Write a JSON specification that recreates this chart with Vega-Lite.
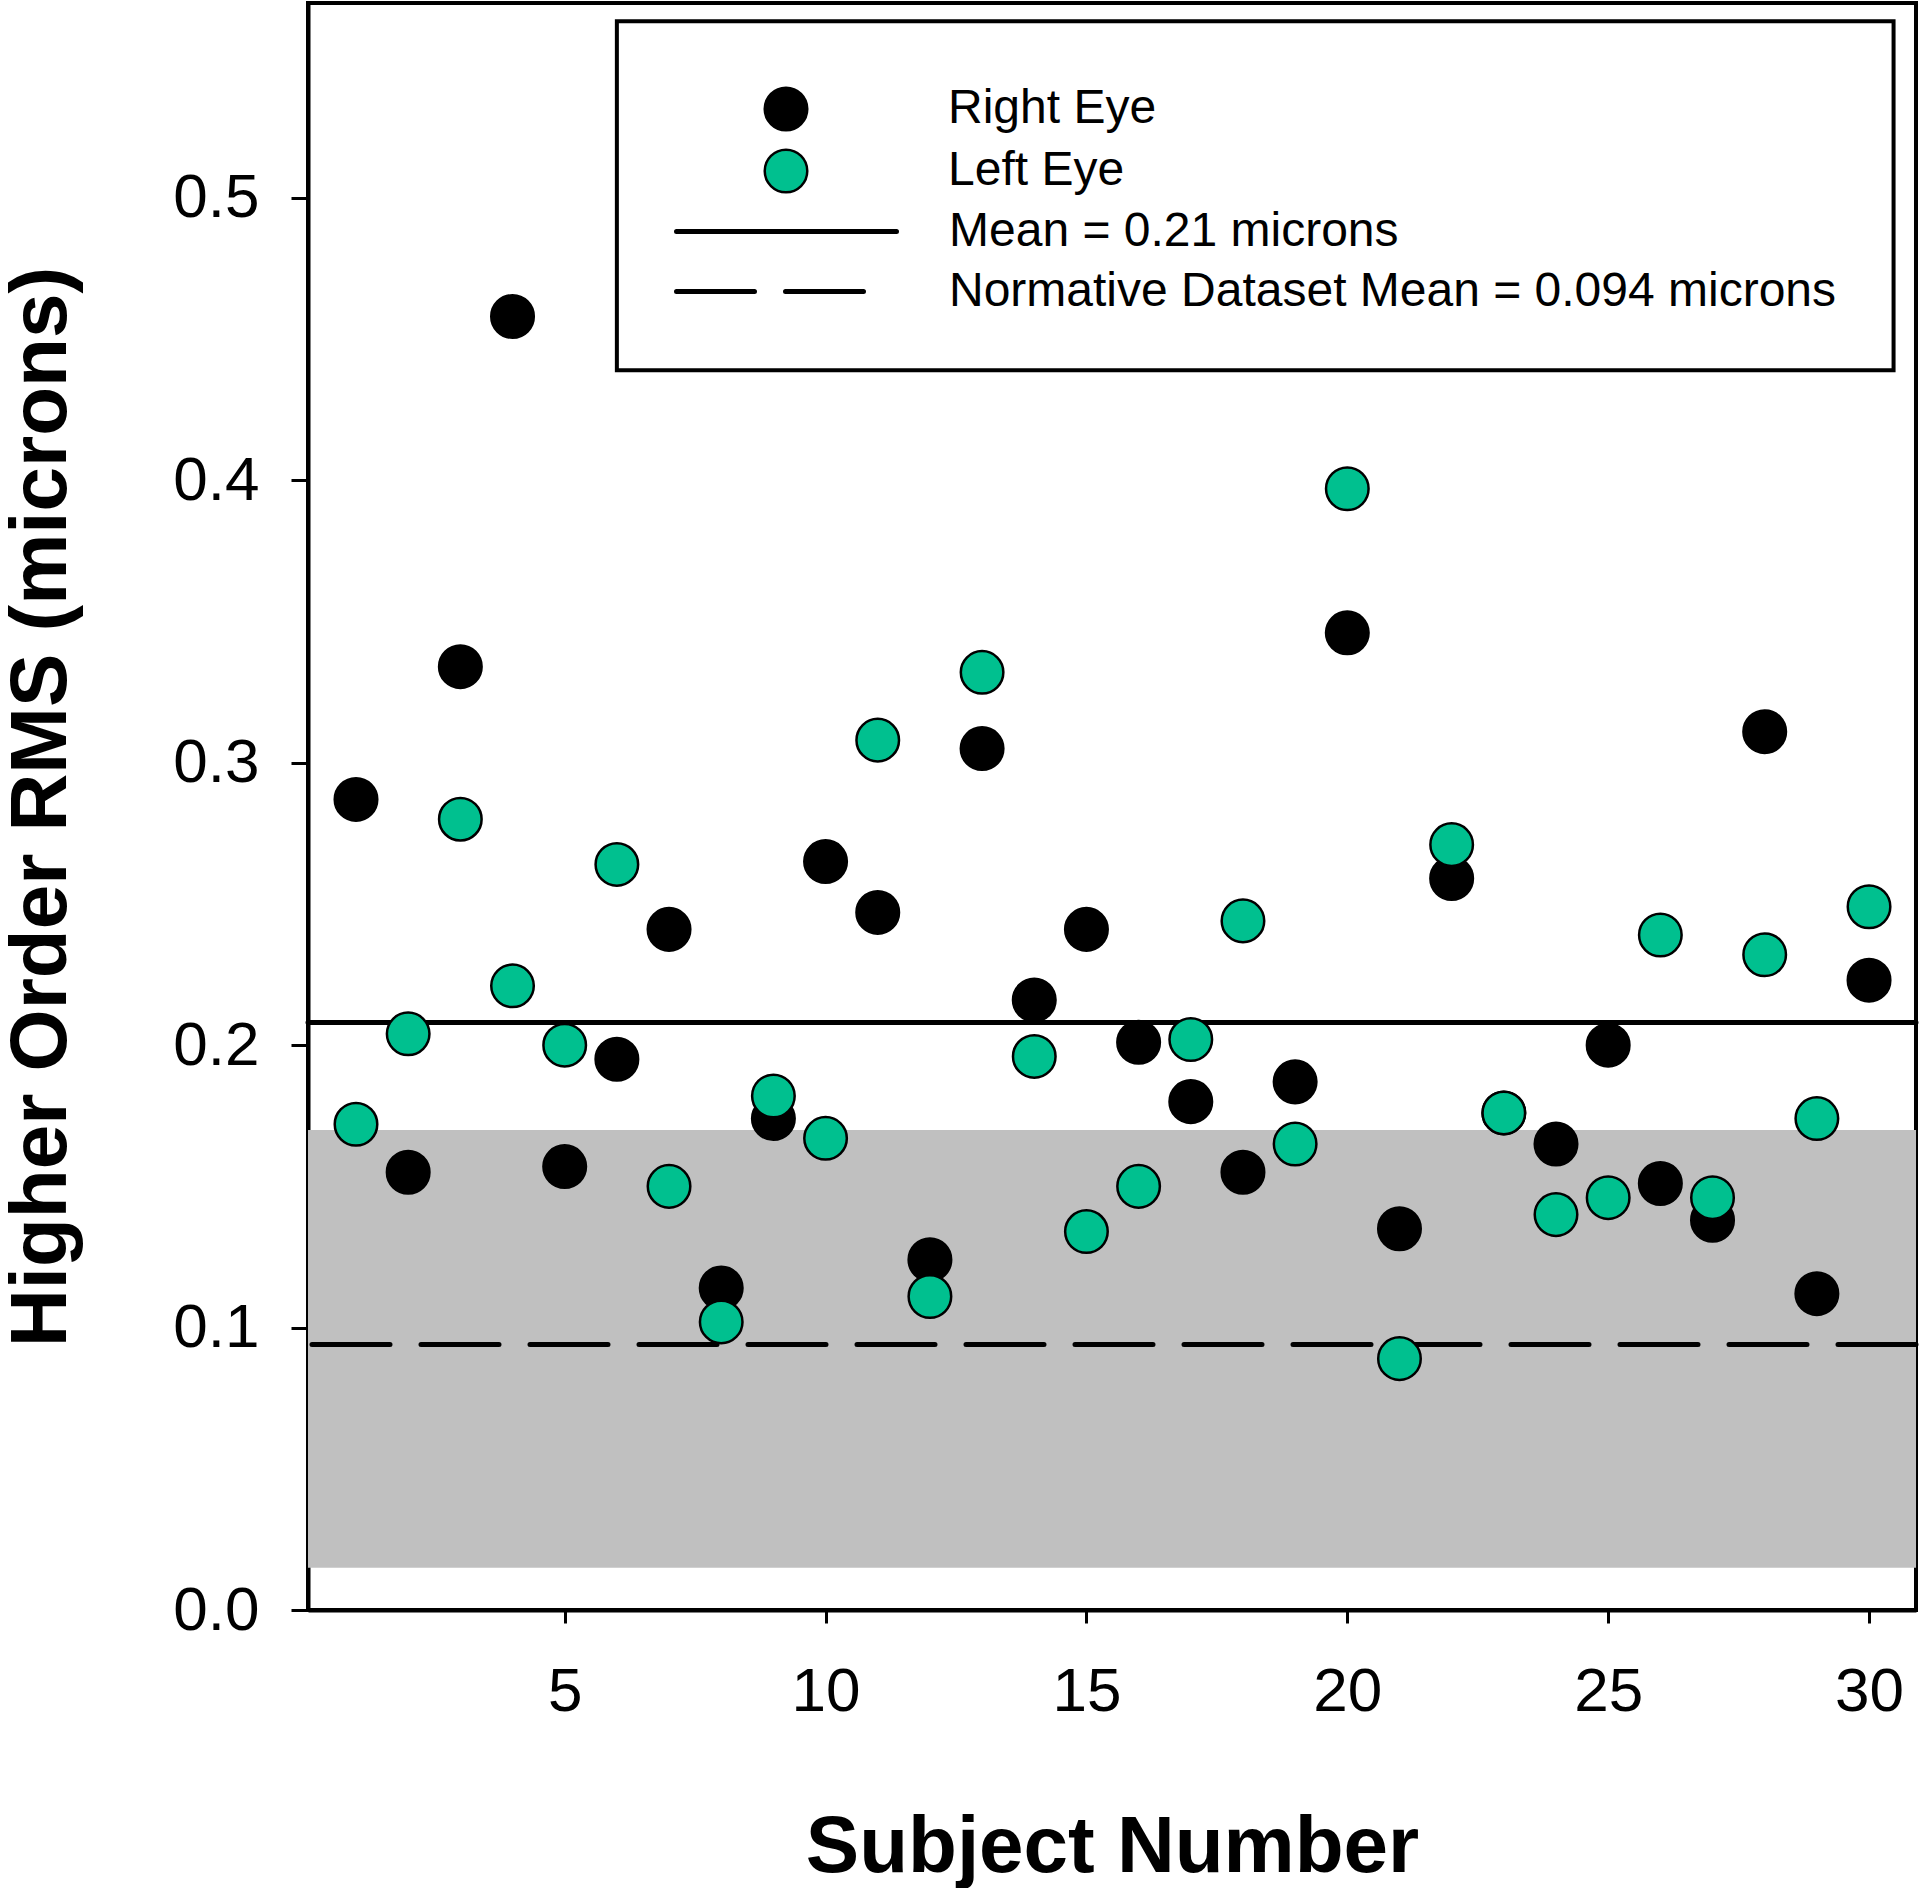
{
  "$schema": "https://vega.github.io/schema/vega-lite/v6.json",
  "width": 1608,
  "height": 1607,
  "autosize": {"type": "none"},
  "padding": {"left": 308, "top": 3, "right": 4, "bottom": 278},
  "background": "white",
  "config": {
    "font": "Liberation Sans",
    "view": {"stroke": "black", "strokeWidth": 4},
    "axis": {
      "grid": false,
      "domainColor": "black",
      "domainWidth": 4,
      "tickColor": "black",
      "tickWidth": 3,
      "labelColor": "black",
      "labelFont": "Liberation Sans",
      "labelFontSize": 62,
      "labelFlush": false,
      "labelOverlap": false,
      "titleFont": "Liberation Sans",
      "titleFontSize": 80,
      "titleFontWeight": "bold",
      "titleColor": "black"
    },
    "legend": {
      "labelFont": "Liberation Sans",
      "labelFontSize": 48,
      "labelColor": "black",
      "labelLimit": 0,
      "padding": 0
    }
  },
  "layer": [
    {
      "data": {"values": [{"lo": 0.015, "hi": 0.17}]},
      "mark": {"type": "rect", "color": "#c0c0c0", "opacity": 1},
      "encoding": {
        "y": {"field": "lo", "type": "quantitative", "scale": {"domain": [0, 0.569], "nice": false, "zero": false}},
        "y2": {"field": "hi"}
      }
    },
    {
      "data": {"values": [
        {"line": "Mean = 0.21 microns", "value": 0.208},
        {"line": "Normative Dataset Mean = 0.094 microns", "value": 0.094}
      ]},
      "mark": {"type": "rule", "color": "black", "strokeWidth": 5, "strokeCap": "round"},
      "encoding": {
        "y": {"field": "value", "type": "quantitative"},
        "strokeDash": {
          "field": "line",
          "type": "nominal",
          "scale": {"domain": ["Mean = 0.21 microns", "Normative Dataset Mean = 0.094 microns"], "range": [[1, 0], [78, 31]]},
          "legend": {
            "title": null,
            "orient": "none",
            "legendX": 451,
            "legendY": 201,
            "symbolType": "M-4.4,0H4.4",
            "symbolSize": 2500,
            "symbolStrokeWidth": 5,
            "symbolStrokeColor": "black",
            "labelOffset": 135,
            "rowPadding": 8,
            "encode": {"symbols": {"update": {
              "shape": {"signal": "datum.value === 'Mean = 0.21 microns' ? 'M-4.4,0H4.4' : 'M-4.4,0H3.12'"},
              "strokeCap": {"value": "round"},
              "strokeWidth": {"value": 5}
            }}}
          }
        }
      }
    },
    {
      "data": {"values": [{"kind": "legend frame"}]},
      "mark": {"type": "rect", "fill": "white", "stroke": "black", "strokeWidth": 4, "opacity": 1},
      "encoding": {
        "x": {"datum": 6.0, "type": "quantitative"},
        "x2": {"datum": 30.47},
        "y": {"datum": 0.5625, "type": "quantitative"},
        "y2": {"datum": 0.439}
      }
    },
    {
      "data": {"values": [
        {"subject": 1, "eye": "Right Eye", "rms": 0.287},
        {"subject": 2, "eye": "Right Eye", "rms": 0.155},
        {"subject": 3, "eye": "Right Eye", "rms": 0.334},
        {"subject": 4, "eye": "Right Eye", "rms": 0.458},
        {"subject": 5, "eye": "Right Eye", "rms": 0.157},
        {"subject": 6, "eye": "Right Eye", "rms": 0.195},
        {"subject": 7, "eye": "Right Eye", "rms": 0.241},
        {"subject": 8, "eye": "Right Eye", "rms": 0.114},
        {"subject": 9, "eye": "Right Eye", "rms": 0.174},
        {"subject": 10, "eye": "Right Eye", "rms": 0.265},
        {"subject": 11, "eye": "Right Eye", "rms": 0.247},
        {"subject": 12, "eye": "Right Eye", "rms": 0.124},
        {"subject": 13, "eye": "Right Eye", "rms": 0.305},
        {"subject": 14, "eye": "Right Eye", "rms": 0.216},
        {"subject": 15, "eye": "Right Eye", "rms": 0.241},
        {"subject": 16, "eye": "Right Eye", "rms": 0.201},
        {"subject": 17, "eye": "Right Eye", "rms": 0.180},
        {"subject": 18, "eye": "Right Eye", "rms": 0.155},
        {"subject": 19, "eye": "Right Eye", "rms": 0.187},
        {"subject": 20, "eye": "Right Eye", "rms": 0.346},
        {"subject": 21, "eye": "Right Eye", "rms": 0.135},
        {"subject": 22, "eye": "Right Eye", "rms": 0.259},
        {"subject": 23, "eye": "Right Eye", "rms": 0.176},
        {"subject": 24, "eye": "Right Eye", "rms": 0.165},
        {"subject": 25, "eye": "Right Eye", "rms": 0.200},
        {"subject": 26, "eye": "Right Eye", "rms": 0.151},
        {"subject": 27, "eye": "Right Eye", "rms": 0.138},
        {"subject": 28, "eye": "Right Eye", "rms": 0.311},
        {"subject": 29, "eye": "Right Eye", "rms": 0.112},
        {"subject": 30, "eye": "Right Eye", "rms": 0.223},
        {"subject": 1, "eye": "Left Eye", "rms": 0.172},
        {"subject": 2, "eye": "Left Eye", "rms": 0.204},
        {"subject": 3, "eye": "Left Eye", "rms": 0.280},
        {"subject": 4, "eye": "Left Eye", "rms": 0.221},
        {"subject": 5, "eye": "Left Eye", "rms": 0.200},
        {"subject": 6, "eye": "Left Eye", "rms": 0.264},
        {"subject": 7, "eye": "Left Eye", "rms": 0.150},
        {"subject": 8, "eye": "Left Eye", "rms": 0.102},
        {"subject": 9, "eye": "Left Eye", "rms": 0.182},
        {"subject": 10, "eye": "Left Eye", "rms": 0.167},
        {"subject": 11, "eye": "Left Eye", "rms": 0.308},
        {"subject": 12, "eye": "Left Eye", "rms": 0.111},
        {"subject": 13, "eye": "Left Eye", "rms": 0.332},
        {"subject": 14, "eye": "Left Eye", "rms": 0.196},
        {"subject": 15, "eye": "Left Eye", "rms": 0.134},
        {"subject": 16, "eye": "Left Eye", "rms": 0.150},
        {"subject": 17, "eye": "Left Eye", "rms": 0.202},
        {"subject": 18, "eye": "Left Eye", "rms": 0.244},
        {"subject": 19, "eye": "Left Eye", "rms": 0.165},
        {"subject": 20, "eye": "Left Eye", "rms": 0.397},
        {"subject": 21, "eye": "Left Eye", "rms": 0.089},
        {"subject": 22, "eye": "Left Eye", "rms": 0.271},
        {"subject": 23, "eye": "Left Eye", "rms": 0.176},
        {"subject": 24, "eye": "Left Eye", "rms": 0.140},
        {"subject": 25, "eye": "Left Eye", "rms": 0.146},
        {"subject": 26, "eye": "Left Eye", "rms": 0.239},
        {"subject": 27, "eye": "Left Eye", "rms": 0.146},
        {"subject": 28, "eye": "Left Eye", "rms": 0.232},
        {"subject": 29, "eye": "Left Eye", "rms": 0.174},
        {"subject": 30, "eye": "Left Eye", "rms": 0.249}
      ]},
      "mark": {"type": "point", "shape": "circle", "filled": true, "size": 1810, "stroke": "black", "strokeWidth": 2.5, "opacity": 1},
      "encoding": {
        "x": {
          "field": "subject",
          "type": "quantitative",
          "scale": {"domain": [0.08, 30.9], "nice": false, "zero": false},
          "axis": {"title": "Subject Number", "values": [5, 10, 15, 20, 25, 30], "tickSize": 13, "labelPadding": 38, "titlePadding": 86}
        },
        "y": {
          "field": "rms",
          "type": "quantitative",
          "scale": {"domain": [0, 0.569], "nice": false, "zero": false},
          "axis": {"title": "Higher Order RMS (microns)", "values": [0, 0.1, 0.2, 0.3, 0.4, 0.5], "format": ".1f", "tickSize": 17, "labelPadding": 32, "titlePadding": 90}
        },
        "color": {
          "field": "eye",
          "type": "nominal",
          "scale": {"domain": ["Right Eye", "Left Eye"], "range": ["#000000", "#00C08F"]},
          "legend": {
            "title": null,
            "orient": "none",
            "legendX": 454,
            "legendY": 82,
            "symbolType": "circle",
            "symbolSize": 1810,
            "symbolStrokeColor": "black",
            "symbolStrokeWidth": 2.5,
            "symbolOpacity": 1,
            "labelOffset": 138,
            "rowPadding": 8,
            "encode": {"symbols": {"update": {"stroke": {"value": "black"}, "strokeWidth": {"value": 2.5}, "opacity": {"value": 1}}}}
          }
        }
      }
    }
  ]
}
